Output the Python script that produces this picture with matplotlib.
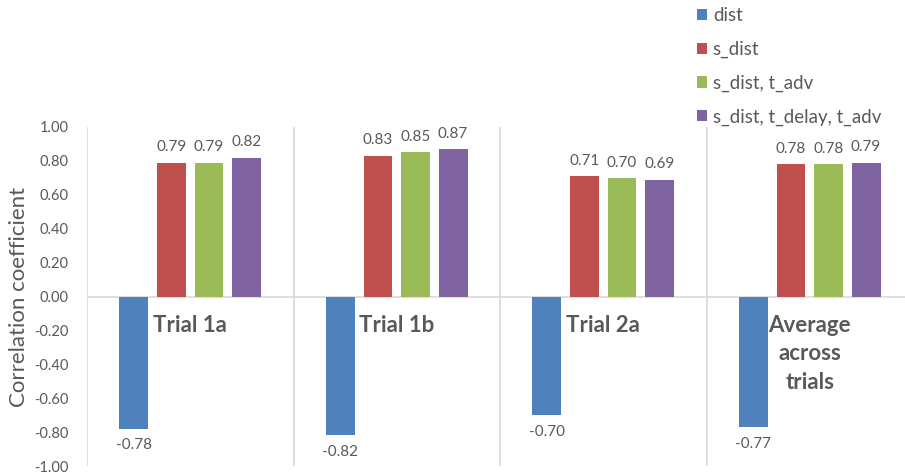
import numpy as np
import matplotlib
matplotlib.use("Agg")
import matplotlib.pyplot as plt
from matplotlib.patches import Patch

plt.rcParams['font.family'] = ['Lato', 'DejaVu Sans']

categories = ["Trial 1a", "Trial 1b", "Trial 2a", "Average\nacross\ntrials"]
series_names = ["dist", "s_dist", "s_dist, t_adv", "s_dist, t_delay, t_adv"]
dist = [-0.78, -0.82, -0.70, -0.77]
s_dist = [0.79, 0.83, 0.71, 0.78]
s_dist_t_adv = [0.79, 0.85, 0.70, 0.78]
s_dist_t_delay_t_adv = [0.82, 0.87, 0.69, 0.79]
yticks = [-1.0, -0.8, -0.6, -0.4, -0.2, 0.0, 0.2, 0.4, 0.6, 0.8, 1.0]

colors = ["#4F81BD", "#C0504D", "#9BBB59", "#8064A2"]
grey = "#595959"
line_grey = "#D9D9D9"

fig = plt.figure(figsize=(9.05, 4.74), dpi=100)
ax = fig.add_axes([87 / 905, 1 - 466 / 474, 1 - 87 / 905, (466 - 127) / 474])

x = np.arange(len(categories))
width = 0.14
step = 0.182
all_series = [dist, s_dist, s_dist_t_adv, s_dist_t_delay_t_adv]

for i, (vals, col) in enumerate(zip(all_series, colors)):
    pos = x + (i - 1.5) * step
    ax.bar(pos, vals, width=width, color=col, zorder=3)
    for p, v in zip(pos, vals):
        if v >= 0:
            ax.annotate(f"{v:.2f}", (p, v), xytext=(0, 6), textcoords="offset points",
                        ha="center", va="bottom", fontsize=11, color=grey)
        else:
            ax.annotate(f"{v:.2f}", (p, v), xytext=(0, -7), textcoords="offset points",
                        ha="center", va="top", fontsize=11, color=grey)

# category labels sit just under the zero line
for xi, lab in zip(x, categories):
    ax.annotate(lab, (xi, 0), xytext=(0, -13), textcoords="offset points",
                ha="center", va="top", fontsize=16, fontweight="bold",
                color=grey, linespacing=1.45)

# vertical separators between categories
for b in np.arange(-0.5, len(categories) + 0.5, 1.0):
    ax.axvline(b, color=line_grey, lw=1.2, zorder=1)
ax.axhline(0, color=line_grey, lw=1.2, zorder=2)

ax.set_xlim(-0.5, -0.5 + 818 / 206.5)
ax.set_ylim(-1, 1)
ax.set_yticks(yticks)
ax.set_yticklabels([f"{t:.2f}" for t in yticks])
ax.set_xticks([])
ax.tick_params(axis="y", length=0, labelsize=10.5, labelcolor=grey, pad=13)
for s in ax.spines.values():
    s.set_visible(False)
ax.set_ylabel("Correlation coefficient", fontsize=16, color=grey, labelpad=4)

handles = [Patch(facecolor=c, edgecolor="none") for c in colors]
fig.legend(handles, series_names, loc="upper left", bbox_to_anchor=(680 / 905, 1.02),
           frameon=False, fontsize=13.5, handlelength=0.55, handleheight=0.55,
           handletextpad=0.3, labelspacing=0.88, labelcolor=grey)

fig.savefig("out.png", dpi=100)
